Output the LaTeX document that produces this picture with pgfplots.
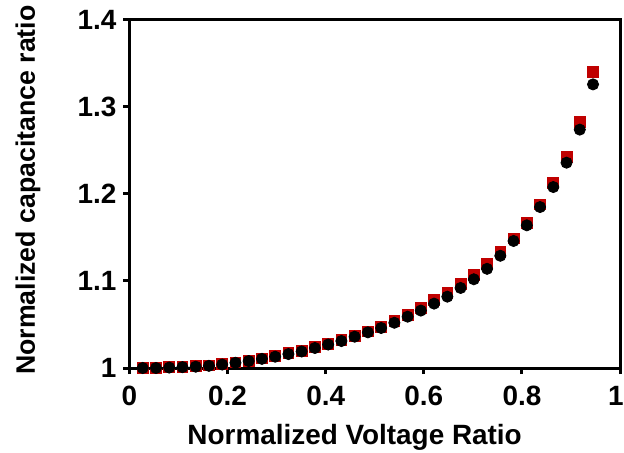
\documentclass[border=0pt]{standalone}
\usepackage{fontspec}
\setmainfont{Liberation Sans}
\usepackage{pgfplots}
\pgfplotsset{compat=1.18}
\definecolor{exred}{HTML}{C00000}

\begin{document}
\begin{tikzpicture}
  \begin{axis}[
    scale only axis, width=245.25bp, height=174bp,
    xmin=0, xmax=1, ymin=1, ymax=1.4,
    xtick={0,0.2,0.4,0.6,0.8},
    extra x ticks={1},
    extra x tick style={xticklabel style={xshift=-2bp}},
    ytick={1,1.1,1.2,1.3,1.4},
    tick pos=left, tick align=outside,
    major tick length=3bp,
    axis line style={line width=1.5bp},
    every tick/.style={black, line width=1.5bp},
    /pgf/number format/assume math mode=true,
    tick label style={font=\fontsize{14}{16}\selectfont\bfseries},
    xticklabel style={yshift=-2.5bp},
    xlabel={Normalized Voltage Ratio},
    ylabel={Normalized capacitance ratio},
    xlabel style={font=\fontsize{14}{16}\selectfont\bfseries,
      at={(axis description cs:0.459,-0.198)}, anchor=center},
    ylabel style={font=\fontsize{13.4}{16}\selectfont\bfseries,
      at={(axis description cs:-0.207,0.511)}, anchor=center},
    clip=false,
  ]
    % second series (red squares), drawn underneath
    \addplot[only marks, mark=square*, mark size=2.7bp, exred, mark options={draw=exred, fill=exred}] coordinates {
      (0.027,1.0005) (0.054,1.0005) (0.081,1.001) (0.108,1.0015) (0.135,1.002)
      (0.162,1.003) (0.189,1.0045) (0.216,1.0065) (0.243,1.0085) (0.270,1.011)
      (0.297,1.014) (0.324,1.017) (0.351,1.020) (0.378,1.024) (0.405,1.028)
      (0.432,1.032) (0.459,1.037) (0.486,1.042) (0.513,1.047) (0.540,1.054)
      (0.567,1.061) (0.594,1.069) (0.621,1.078) (0.648,1.086) (0.675,1.097)
      (0.702,1.107) (0.729,1.120) (0.756,1.133) (0.783,1.149) (0.810,1.167)
      (0.837,1.188) (0.864,1.213) (0.891,1.243) (0.918,1.283) (0.945,1.340)};
    % first series (black circles)
    \addplot[only marks, mark=*, mark size=2.8bp, black] coordinates {
      (0.027,1.000) (0.054,1.000) (0.081,1.0005) (0.108,1.001) (0.135,1.0015)
      (0.162,1.0025) (0.189,1.004) (0.216,1.006) (0.243,1.008) (0.270,1.0105)
      (0.297,1.013) (0.324,1.016) (0.351,1.019) (0.378,1.023) (0.405,1.027)
      (0.432,1.031) (0.459,1.036) (0.486,1.041) (0.513,1.046) (0.540,1.052)
      (0.567,1.059) (0.594,1.066) (0.621,1.074) (0.648,1.082) (0.675,1.092)
      (0.702,1.102) (0.729,1.114) (0.756,1.129) (0.783,1.146) (0.810,1.164)
      (0.837,1.185) (0.864,1.208) (0.891,1.236) (0.918,1.274) (0.945,1.326)};
    \coordinate (sw) at (rel axis cs:0,0);
    \coordinate (ne) at (rel axis cs:1,1);
  \end{axis}
  \pgfresetboundingbox
  \path[use as bounding box] ([shift={(-64.75bp,-42.5bp)}]sw) rectangle ([shift={(2bp,10bp)}]ne);
\end{tikzpicture}
\end{document}
